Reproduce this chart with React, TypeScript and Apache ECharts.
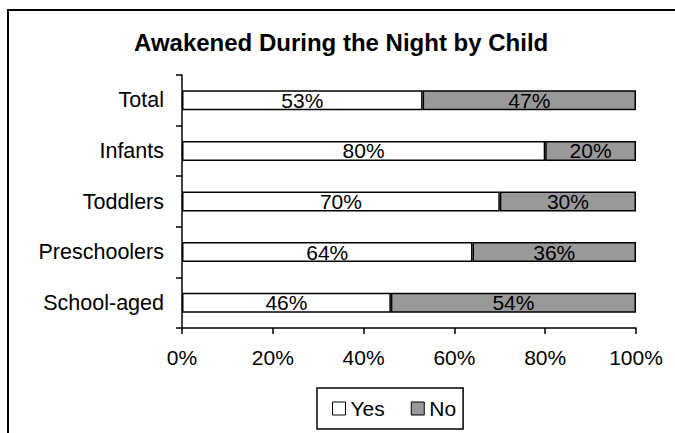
import React, { useEffect, useRef } from "react";
import * as echarts from "echarts";

// Share of children awakened during the night, by age group (percent)
const categories = ["Total", "Infants", "Toddlers", "Preschoolers", "School-aged"];
const yesValues = [53, 80, 70, 64, 46];
const noValues = [47, 20, 30, 36, 54];
const xTicks = [0, 20, 40, 60, 80, 100];

const FONT = "'Liberation Sans', Arial, sans-serif";

export default function App() {
  const ref = useRef<HTMLDivElement>(null);

  useEffect(() => {
    document.body.style.margin = "0";
    if (!ref.current) return;
    const chart = echarts.init(ref.current, undefined, { renderer: "svg" });

    const labelStyle = {
      show: true,
      position: "inside" as const,
      color: "#000",
      fontFamily: FONT,
      fontSize: 21,
      formatter: (p: any) => `${p.value}%`,
    };

    chart.setOption({
      animation: false,
      backgroundColor: "#fff",
      textStyle: { fontFamily: FONT },
      title: {
        text: "Awakened During the Night by Child",
        left: 134,
        top: 30,
        padding: 0,
        textStyle: { fontFamily: FONT, fontSize: 24, fontWeight: "bold", color: "#000" },
      },
      graphic: [
        {
          type: "rect",
          shape: { x: 8, y: 10, width: 720, height: 500 },
          style: { fill: "none", stroke: "#000", lineWidth: 2 },
          silent: true,
        },
      ],
      legend: {
        top: 388,
        left: 317,
        data: ["Yes", "No"],
        icon: "rect",
        itemWidth: 13,
        itemHeight: 13,
        itemGap: 26,
        padding: [10, 7, 10, 15],
        borderColor: "#000",
        borderWidth: 1.5,
        textStyle: { fontFamily: FONT, fontSize: 21, color: "#000" },
        itemStyle: { borderColor: "#000", borderWidth: 1 },
      },
      grid: { left: 182, right: 39, top: 75, bottom: 105, containLabel: false },
      xAxis: {
        type: "value",
        min: xTicks[0],
        max: xTicks[xTicks.length - 1],
        interval: 20,
        axisLine: { show: true, lineStyle: { color: "#000", width: 1.5 } },
        axisTick: { show: true, length: 6, lineStyle: { color: "#000", width: 1.5 } },
        splitLine: { show: false },
        axisLabel: {
          color: "#000",
          fontFamily: FONT,
          fontSize: 21,
          margin: 19,
          formatter: (v: number) => `${v}%`,
        },
      },
      yAxis: {
        type: "category",
        data: categories,
        inverse: true,
        axisLine: { show: true, lineStyle: { color: "#000", width: 1.5 } },
        axisTick: { show: true, length: 6, lineStyle: { color: "#000", width: 1.5 } },
        axisLabel: { color: "#000", fontFamily: FONT, fontSize: 21.5, margin: 18 },
      },
      series: [
        {
          name: "Yes",
          type: "bar",
          stack: "all",
          data: yesValues,
          barWidth: 20,
          itemStyle: { color: "#fff", borderColor: "#000", borderWidth: 1.5 },
          label: labelStyle,
        },
        {
          name: "No",
          type: "bar",
          stack: "all",
          data: noValues,
          barWidth: 20,
          itemStyle: { color: "#999999", borderColor: "#000", borderWidth: 1.5 },
          label: labelStyle,
        },
      ],
    });

    return () => chart.dispose();
  }, []);

  return <div ref={ref} style={{ width: 675, height: 433 }} />;
}
